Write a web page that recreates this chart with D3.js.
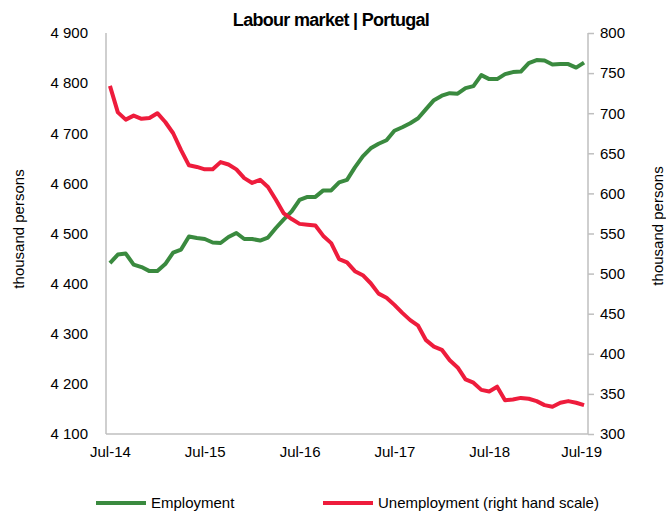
<!DOCTYPE html>
<html>
<head>
<meta charset="utf-8">
<script src="https://cdn.jsdelivr.net/npm/d3@7"></script>
<style>
  body { margin: 0; background: #fff; }
  text { font-family: "Liberation Sans", Arial, sans-serif; fill: #000; }
</style>
</head>
<body>
<script>
const width = 666;
const height = 515;

// monthly, Jul-14 .. Jul-19
const startMonth = new Date(2014, 6, 1);
const months = d3.timeMonth.range(startMonth, new Date(2019, 7, 1));

const tickLabels = ["Jul-14", "Jul-15", "Jul-16", "Jul-17", "Jul-18", "Jul-19"];

const employment = [
  4441, 4458, 4460, 4438, 4433, 4425, 4425, 4439, 4462, 4468, 4494, 4491,
  4489, 4482, 4481, 4493, 4501, 4489, 4489, 4486, 4492, 4511, 4528, 4544,
  4567, 4573, 4573, 4586, 4586, 4602, 4607, 4632, 4654, 4670, 4679, 4686,
  4705, 4712, 4720, 4730, 4748, 4766, 4775, 4780, 4779, 4790, 4794, 4816,
  4808, 4808, 4818, 4822, 4823, 4840, 4846, 4845, 4837, 4838, 4838, 4831,
  4841
];

const unemployment = [
  734, 701, 692, 697, 693, 694, 700, 689, 675, 654, 635, 633,
  630, 630, 639, 636, 630, 619, 613, 617, 608, 592, 575, 568,
  562, 561, 560, 547, 538, 518, 514, 503, 498, 488, 475, 470,
  461, 451, 442, 435, 417, 409, 405, 392, 383, 368, 364, 355,
  353, 359, 342, 343, 345, 344, 341, 336, 334, 339, 341, 339,
  336
];

const leftTicks = [4100, 4200, 4300, 4400, 4500, 4600, 4700, 4800, 4900];
const rightTicks = [300, 350, 400, 450, 500, 550, 600, 650, 700, 750, 800];

const margin = { top: 33, right: 78, bottom: 81, left: 106 };
const plotW = width - margin.left - margin.right;
const plotH = height - margin.top - margin.bottom;

const svg = d3.select("body").append("svg")
  .attr("width", width)
  .attr("height", height);

const g = svg.append("g")
  .attr("transform", "translate(" + margin.left + "," + margin.top + ")");

const x = d3.scaleLinear()
  .domain([-0.5, months.length - 0.5])
  .range([0, plotW]);

const yLeft = d3.scaleLinear().domain([4100, 4900]).range([plotH, 0]);
const yRight = d3.scaleLinear().domain([300, 800]).range([plotH, 0]);

const fmt = d3.formatLocale({ decimal: ".", thousands: " ", grouping: [3], currency: ["", ""] }).format(",");

// left axis
const leftAxis = g.append("g")
  .call(d3.axisLeft(yLeft).tickValues(leftTicks).tickSize(0).tickPadding(18).tickFormat(fmt));

// right axis
const rightAxis = g.append("g")
  .attr("transform", "translate(" + plotW + ",0)")
  .call(d3.axisRight(yRight).tickValues(rightTicks).tickSize(6).tickPadding(6));

// bottom axis
const tickIdx = tickLabels.map((d, i) => i * 12);
const bottomAxis = g.append("g")
  .attr("transform", "translate(0," + plotH + ")")
  .call(d3.axisBottom(x).tickValues(tickIdx).tickSize(0).tickPadding(12)
    .tickFormat((d, i) => tickLabels[i]));

[leftAxis, rightAxis, bottomAxis].forEach(a => {
  a.select(".domain").attr("stroke", "#bfbfbf").attr("stroke-width", 1.5);
  a.selectAll(".tick line").attr("stroke", "#bfbfbf").attr("stroke-width", 1.5);
  a.selectAll("text").style("font-size", "15px").attr("fill", "#000");
});
leftAxis.select(".domain").attr("d", "M0,0V" + plotH);
rightAxis.select(".domain").attr("d", "M0,0V" + plotH);
bottomAxis.select(".domain").attr("d", "M0,0H" + plotW);
bottomAxis.selectAll(".tick").filter((d, i) => i === tickIdx.length - 1)
  .select("text").attr("dx", -3);

// lines
const lineL = d3.line().x((d, i) => x(i)).y(d => yLeft(d));
const lineR = d3.line().x((d, i) => x(i)).y(d => yRight(d));

g.append("path")
  .datum(employment)
  .attr("fill", "none")
  .attr("stroke", "#3a8a3f")
  .attr("stroke-width", 4)
  .attr("stroke-linejoin", "round")
  .attr("d", lineL);

g.append("path")
  .datum(unemployment)
  .attr("fill", "none")
  .attr("stroke", "#ee1c3c")
  .attr("stroke-width", 4)
  .attr("stroke-linejoin", "round")
  .attr("d", lineR);

// title
svg.append("text")
  .attr("x", 331)
  .attr("y", 26)
  .attr("text-anchor", "middle")
  .style("font-size", "18px")
  .style("font-weight", "bold")
  .style("letter-spacing", "-0.7px")
  .text("Labour market | Portugal");

// axis titles
svg.append("text")
  .attr("transform", "translate(24,229) rotate(-90)")
  .attr("text-anchor", "middle")
  .style("font-size", "15px")
  .text("thousand persons");

svg.append("text")
  .attr("transform", "translate(663,226) rotate(-90)")
  .attr("text-anchor", "middle")
  .style("font-size", "15px")
  .text("thousand persons");

// legend
const legendItems = [
  { name: "Employment", color: "#3a8a3f", x: 96 },
  { name: "Unemployment (right hand scale)", color: "#ee1c3c", x: 323 }
];
const legend = svg.append("g").attr("transform", "translate(0,503)");
legendItems.forEach(d => {
  legend.append("line")
    .attr("x1", d.x).attr("x2", d.x + 50)
    .attr("y1", 0).attr("y2", 0)
    .attr("stroke", d.color).attr("stroke-width", 4);
  legend.append("text")
    .attr("x", d.x + 55)
    .attr("y", 5)
    .style("font-size", "15px")
    .text(d.name);
});
</script>
</body>
</html>
